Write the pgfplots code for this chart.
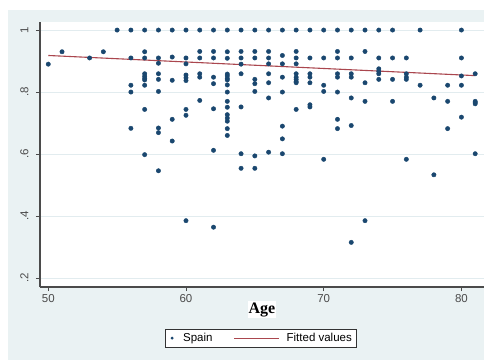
\documentclass[border=0pt]{standalone}
\usepackage{pgfplots}
\pgfplotsset{compat=1.18}
\usepackage{fontspec}
\setmainfont{Liberation Sans}
\newfontfamily\serifb{Liberation Serif}
\definecolor{statabg}{RGB}{234,242,243}
\definecolor{statanavy}{RGB}{26,71,111}
\definecolor{statamaroon}{RGB}{170,70,78}
\definecolor{gridc}{RGB}{226,236,239}
\definecolor{axisc}{RGB}{75,75,75}
\begin{document}
\begin{tikzpicture}[x=1pt,y=1pt]
\useasboundingbox (0,0) rectangle (484,360);
\fill[white] (0,0) rectangle (484,360);
\fill[statabg] (8,0) rectangle (484,350);
\begin{axis}[
  at={(40pt,73pt)}, anchor=south west, scale only axis,
  width=444pt, height=265pt,
  xmin=49.4, xmax=81.64, ymin=0.171, ymax=1.026,
  axis x line*=bottom, axis y line*=left,
  axis line style={axisc, line width=1.2pt, -},
  every outer x axis line/.append style={-},
  every outer y axis line/.append style={-},
  axis background/.style={fill=white},
  ymajorgrids, grid style={gridc, line width=0.9pt},
  xtick={50,60,70,80}, xticklabels={50,60,70,80},
  ytick={0.2,0.4,0.6,0.8,1}, yticklabels={.2,.4,.6,.8,1},
  tick align=outside, major tick length=4pt,
  tick style={axisc, line width=0.8pt},
  yticklabel shift=4pt,
  yticklabel style={rotate=90, anchor=south, font=\fontsize{11.5}{13}\selectfont, text=axisc},
  xticklabel style={font=\fontsize{11.5}{13}\selectfont, text=axisc},
  xlabel={\serifb\bfseries Age},
  xlabel style={at={(axis description cs:0.5,-0.085)}, anchor=center, fill=white, inner sep=1pt, font=\fontsize{16}{18}\selectfont},
  legend style={at={(axis description cs:0.4977,-0.193)}, anchor=center,
    draw=black!80, line width=0.8pt, fill=white, inner ysep=2pt,
    font=\fontsize{11.5}{13}\selectfont, legend columns=2,
    /tikz/every odd column/.append style={column sep=5pt},
    /tikz/every even column/.append style={column sep=19pt}},
]
\addplot[only marks, mark=*, mark size=2.2pt, color=statanavy,
  legend image code/.code={\path[draw=none] (0pt,0pt) -- (8pt,0pt); \fill[statanavy, draw=none] (4pt,0pt) circle (1.6pt);}]
  coordinates {
  (50,0.89) (51,0.93) (53,0.91) (54,0.93) (55,1)
  (56,1) (56,0.91) (56,0.822) (56,0.80) (56,0.683)
  (57,1) (57,0.93) (57,0.91) (57,0.859) (57,0.851) (57,0.844) (57,0.839) (57,0.822) (57,0.744) (57,0.598)
  (58,1) (58,0.91) (58,0.893) (58,0.859) (58,0.841) (58,0.802) (58,0.684) (58,0.669) (58,0.546)
  (59,1) (59,0.913) (59,0.838) (59,0.712) (59,0.642)
  (60,1) (60,0.91) (60,0.891) (60,0.855) (60,0.846) (60,0.837) (60,0.744) (60,0.725) (60,0.385)
  (61,1) (61,0.931) (61,0.91) (61,0.859) (61,0.848) (61,0.773)
  (62,1) (62,0.931) (62,0.91) (62,0.848) (62,0.827) (62,0.746) (62,0.612) (62,0.364)
  (63,1) (63,0.93) (63,0.909) (63,0.858) (63,0.852) (63,0.844) (63,0.839) (63,0.823) (63,0.80) (63,0.77) (63,0.751) (63,0.727) (63,0.716) (63,0.706) (63,0.682) (63,0.66)
  (64,1) (64,0.931) (64,0.91) (64,0.89) (64,0.859) (64,0.752) (64,0.601) (64,0.554)
  (65,1) (65,0.931) (65,0.91) (65,0.841) (65,0.827) (65,0.802) (65,0.594) (65,0.554)
  (66,1) (66,0.931) (66,0.91) (66,0.891) (66,0.859) (66,0.83) (66,0.781) (66,0.606)
  (67,1) (67,0.918) (67,0.891) (67,0.848) (67,0.80) (67,0.69) (67,0.649) (67,0.601)
  (68,1) (68,0.931) (68,0.91) (68,0.891) (68,0.859) (68,0.848) (68,0.841) (68,0.834) (68,0.83) (68,0.744)
  (69,1) (69,0.91) (69,0.859) (69,0.848) (69,0.83) (69,0.759) (69,0.752)
  (70,1) (70,0.91) (70,0.822) (70,0.802) (70,0.583)
  (71,1) (71,0.931) (71,0.91) (71,0.859) (71,0.848) (71,0.80) (71,0.712) (71,0.682)
  (72,1) (72,0.91) (72,0.859) (72,0.848) (72,0.781) (72,0.692) (72,0.315)
  (73,1) (73,0.931) (73,0.83) (73,0.77) (73,0.385)
  (74,1) (74,0.91) (74,0.875) (74,0.867) (74,0.859) (74,0.841)
  (75,1) (75,0.91) (75,0.841) (75,0.77)
  (76,0.91) (76,0.859) (76,0.848) (76,0.841) (76,0.583)
  (77,1) (77,0.822)
  (78,0.781) (78,0.533)
  (79,0.822) (79,0.77) (79,0.682)
  (80,1) (80,0.91) (80,0.852) (80,0.822) (80,0.719)
  (81,0.859) (81,0.77) (81,0.766) (81,0.762) (81,0.601)
  };
\addlegendentry{Spain}
\addplot[statamaroon, line width=1.1pt, no marks,
  legend image code/.code={\draw[draw=statamaroon, line width=1.1pt] (0pt,0pt) -- (45pt,0pt);}]
  coordinates {(50,0.918) (81,0.853)};
\addlegendentry{Fitted values}
\end{axis}
\end{tikzpicture}
\end{document}
